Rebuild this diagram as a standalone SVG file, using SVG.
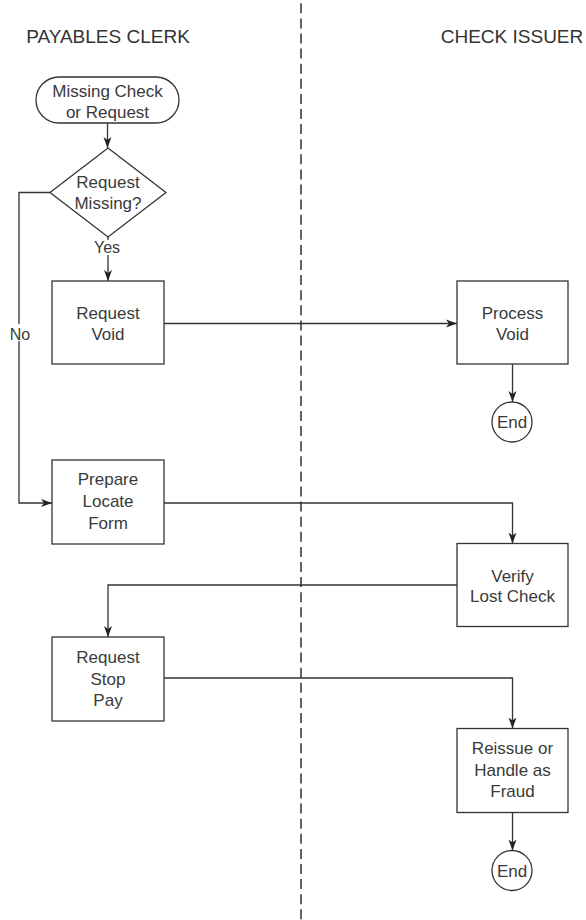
<svg xmlns="http://www.w3.org/2000/svg" width="586" height="920" viewBox="0 0 586 920">
<defs>
<style>
.n{fill:#fff;stroke:#333;stroke-width:1.3}
.c{fill:none;stroke:#333;stroke-width:1.3}
.t{font-family:"Liberation Sans",Arial,sans-serif;font-size:17px;fill:#3a3a3a;text-anchor:middle}
.h{font-family:"Liberation Sans",Arial,sans-serif;font-size:19px;fill:#333;text-anchor:middle}
.l{font-family:"Liberation Sans",Arial,sans-serif;font-size:16px;fill:#3a3a3a;text-anchor:middle}
</style>
<marker id="a" markerUnits="userSpaceOnUse" markerWidth="12" markerHeight="10" refX="11" refY="5" orient="auto">
<path d="M0,1 L11,5 L0,9 L3,5 z" fill="#222"/>
</marker>
</defs>
<rect width="586" height="920" fill="#fff"/>
<line x1="301" y1="3.3" x2="301" y2="920" stroke="#222" stroke-width="1.4" stroke-dasharray="10 5.1"/>
<text class="h" x="108" y="43">PAYABLES CLERK</text>
<text class="h" x="512" y="43">CHECK ISSUER</text>
<g id="connectors">
<path class="c" d="M107.5,123 V148" marker-end="url(#a)"/>
<path class="c" d="M108,237 V281" marker-end="url(#a)"/>
<rect x="92" y="240" width="30" height="15" fill="#fff"/>
<text class="l" x="107" y="253">Yes</text>
<path class="c" d="M50,192.5 H19 V503 H52" marker-end="url(#a)"/>
<rect x="8" y="324" width="24" height="17" fill="#fff"/>
<text class="l" x="20" y="339.5">No</text>
<path class="c" d="M164,323.5 H457" marker-end="url(#a)"/>
<path class="c" d="M512.5,364 V402" marker-end="url(#a)"/>
<path class="c" d="M164,503 H512.5 V543.5" marker-end="url(#a)"/>
<path class="c" d="M457,585 H108 V637" marker-end="url(#a)"/>
<path class="c" d="M164,678 H512.5 V728.5" marker-end="url(#a)"/>
<path class="c" d="M512.5,812.5 V850.5" marker-end="url(#a)"/>
</g>
<g id="start">
<rect class="n" x="36" y="77" width="143" height="46" rx="23"/>
<text class="t" x="107.5" y="97">Missing Check</text>
<text class="t" x="107.5" y="117.5">or Request</text>
</g>
<g id="decision">
<polygon class="n" points="108,148 166,192.5 108,237 50,192.5"/>
<text class="t" x="108" y="188">Request</text>
<text class="t" x="108" y="208.5">Missing?</text>
</g>
<g id="requestVoid">
<rect class="n" x="52" y="281" width="112" height="83"/>
<text class="t" x="108" y="318.5">Request</text>
<text class="t" x="108" y="340">Void</text>
</g>
<g id="processVoid">
<rect class="n" x="457" y="281" width="111" height="83"/>
<text class="t" x="512.5" y="318.5">Process</text>
<text class="t" x="512.5" y="340">Void</text>
</g>
<g id="end1">
<circle class="n" cx="512" cy="422" r="20"/>
<text class="t" x="512" y="428">End</text>
</g>
<g id="prepareLocate">
<rect class="n" x="52" y="460" width="112" height="84"/>
<text class="t" x="108" y="485">Prepare</text>
<text class="t" x="108" y="507">Locate</text>
<text class="t" x="108" y="528.5">Form</text>
</g>
<g id="verifyLost">
<rect class="n" x="457" y="543.5" width="111" height="83"/>
<text class="t" x="512.5" y="582">Verify</text>
<text class="t" x="512.5" y="602">Lost Check</text>
</g>
<g id="requestStop">
<rect class="n" x="52" y="637" width="112" height="84"/>
<text class="t" x="108" y="663">Request</text>
<text class="t" x="108" y="684.5">Stop</text>
<text class="t" x="108" y="705.5">Pay</text>
</g>
<g id="reissue">
<rect class="n" x="457" y="728.5" width="111" height="84"/>
<text class="t" x="512.5" y="753.5">Reissue or</text>
<text class="t" x="512.5" y="775.5">Handle as</text>
<text class="t" x="512.5" y="797">Fraud</text>
</g>
<g id="end2">
<circle class="n" cx="512" cy="870.5" r="20"/>
<text class="t" x="512" y="876.5">End</text>
</g>
</svg>
